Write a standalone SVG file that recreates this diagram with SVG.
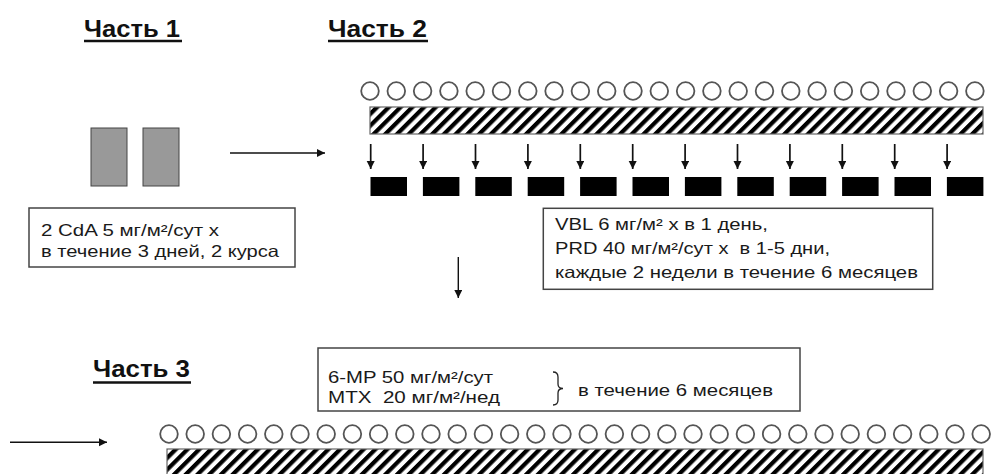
<svg xmlns="http://www.w3.org/2000/svg" xmlns:xlink="http://www.w3.org/1999/xlink" width="992" height="474" viewBox="0 0 992 474">
<style>
.h{font-family:"Liberation Sans",Arial,sans-serif;font-weight:bold;font-size:24px;fill:#111}
.t{font-family:"Liberation Sans",Arial,sans-serif;font-size:16.5px;fill:#1a1a1a}
.ul{stroke:#111;stroke-width:2.3}
.box{fill:#fff;stroke:#444;stroke-width:1.5}
.circ{fill:none;stroke:#555;stroke-width:1.8}
.bar{fill:url(#hatch);stroke:#666;stroke-width:1.2}
.blk{fill:#000}
.gray{fill:#999;stroke:#444;stroke-width:1}
.con{stroke:#111;stroke-width:1.4;fill:none}
.dn{stroke:#111;stroke-width:1.7;fill:none}
</style>
<defs>
<pattern id="hatch" patternUnits="userSpaceOnUse" width="8.3" height="8.3" patternTransform="rotate(45)">
<rect width="8.3" height="8.3" fill="#fff"/>
<rect width="4.2" height="8.3" fill="#000"/>
</pattern>
<marker id="ah" markerUnits="userSpaceOnUse" markerWidth="9" markerHeight="9" refX="8" refY="4" orient="auto">
<path d="M0,0 L8,4 L0,8 z" fill="#111"/>
</marker>
<circle id="c" r="8.8" class="circ"/>
</defs>
<rect width="992" height="474" fill="#fff"/>

<g id="header1">
<text class="h" x="84" y="37" textLength="96" lengthAdjust="spacingAndGlyphs">Часть 1</text>
<line class="ul" x1="84" y1="41" x2="182" y2="41"/>
</g>
<g id="header2">
<text class="h" x="328" y="37" textLength="99" lengthAdjust="spacingAndGlyphs">Часть 2</text>
<line class="ul" x1="328" y1="41" x2="428" y2="41"/>
</g>
<g id="header3">
<text class="h" x="93" y="377" textLength="97" lengthAdjust="spacingAndGlyphs">Часть 3</text>
<line class="ul" x1="93" y1="382.5" x2="191" y2="382.5"/>
</g>

<g id="part1-courses">
<rect class="gray" x="91" y="128" width="36" height="58"/>
<rect class="gray" x="143" y="128" width="36" height="58"/>
</g>

<g id="box1">
<rect class="box" x="29" y="208" width="266" height="59"/>
<text class="t" x="41" y="236" textLength="178" lengthAdjust="spacingAndGlyphs">2 CdA 5 мг/м²/сут x</text>
<text class="t" x="41" y="256.5" textLength="238" lengthAdjust="spacingAndGlyphs">в течение 3 дней, 2 курса</text>
</g>

<g id="circles-top">
<use xlink:href="#c" x="370" y="91"/><use xlink:href="#c" x="396.3" y="91"/><use xlink:href="#c" x="422.6" y="91"/><use xlink:href="#c" x="448.9" y="91"/><use xlink:href="#c" x="475.2" y="91"/><use xlink:href="#c" x="501.5" y="91"/><use xlink:href="#c" x="527.8" y="91"/><use xlink:href="#c" x="554.1" y="91"/><use xlink:href="#c" x="580.4" y="91"/><use xlink:href="#c" x="606.7" y="91"/><use xlink:href="#c" x="633" y="91"/><use xlink:href="#c" x="659.3" y="91"/><use xlink:href="#c" x="685.6" y="91"/><use xlink:href="#c" x="711.9" y="91"/><use xlink:href="#c" x="738.2" y="91"/><use xlink:href="#c" x="764.5" y="91"/><use xlink:href="#c" x="790.8" y="91"/><use xlink:href="#c" x="817.1" y="91"/><use xlink:href="#c" x="843.4" y="91"/><use xlink:href="#c" x="869.7" y="91"/><use xlink:href="#c" x="896" y="91"/><use xlink:href="#c" x="922.3" y="91"/><use xlink:href="#c" x="948.6" y="91"/><use xlink:href="#c" x="974.9" y="91"/>
</g>
<g id="hatch-top">
<rect class="bar" x="370" y="107" width="613" height="27"/>
</g>

<g id="bars-top">
<rect class="blk" x="370.5" y="177" width="36.5" height="19"/><rect class="blk" x="422.9" y="177" width="36.5" height="19"/><rect class="blk" x="475.3" y="177" width="36.5" height="19"/><rect class="blk" x="527.7" y="177" width="36.5" height="19"/><rect class="blk" x="580.1" y="177" width="36.5" height="19"/><rect class="blk" x="632.5" y="177" width="36.5" height="19"/><rect class="blk" x="684.9" y="177" width="36.5" height="19"/><rect class="blk" x="737.3" y="177" width="36.5" height="19"/><rect class="blk" x="789.7" y="177" width="36.5" height="19"/><rect class="blk" x="842.1" y="177" width="36.5" height="19"/><rect class="blk" x="894.5" y="177" width="36.5" height="19"/><rect class="blk" x="946.9" y="177" width="36.5" height="19"/>
</g>

<g id="box2">
<rect class="box" x="543.3" y="208.3" width="389.4" height="81"/>
<text class="t" x="555" y="230.3" textLength="213" lengthAdjust="spacingAndGlyphs">VBL 6 мг/м² x в 1 день,</text>
<text class="t" x="555" y="254.3" textLength="275" lengthAdjust="spacingAndGlyphs" xml:space="preserve">PRD 40 мг/м²/сут x  в 1-5 дни,</text>
<text class="t" x="555" y="278" textLength="363" lengthAdjust="spacingAndGlyphs">каждые 2 недели в течение 6 месяцев</text>
</g>

<g id="box3">
<rect class="box" x="318" y="348" width="482" height="63"/>
<text class="t" x="328" y="382.7" textLength="165" lengthAdjust="spacingAndGlyphs">6-MP 50 мг/м²/сут</text>
<text class="t" x="328" y="402.7" textLength="172" lengthAdjust="spacingAndGlyphs" xml:space="preserve">MTX  20 мг/м²/нед</text>
<path d="M553,372 Q558,372 558,377 L558,384 Q558,388.5 563,388.5 Q558,388.5 558,393 L558,400 Q558,405 553,405" fill="none" stroke="#222" stroke-width="1.3"/>
<text class="t" x="578" y="395.5" textLength="195" lengthAdjust="spacingAndGlyphs">в течение 6 месяцев</text>
</g>

<g id="circles-bottom">
<use xlink:href="#c" x="169" y="434"/><use xlink:href="#c" x="195.2" y="434"/><use xlink:href="#c" x="221.4" y="434"/><use xlink:href="#c" x="247.6" y="434"/><use xlink:href="#c" x="273.8" y="434"/><use xlink:href="#c" x="300" y="434"/><use xlink:href="#c" x="326.2" y="434"/><use xlink:href="#c" x="352.4" y="434"/><use xlink:href="#c" x="378.6" y="434"/><use xlink:href="#c" x="404.8" y="434"/><use xlink:href="#c" x="431" y="434"/><use xlink:href="#c" x="457.2" y="434"/><use xlink:href="#c" x="483.4" y="434"/><use xlink:href="#c" x="509.6" y="434"/><use xlink:href="#c" x="535.8" y="434"/><use xlink:href="#c" x="562" y="434"/><use xlink:href="#c" x="588.2" y="434"/><use xlink:href="#c" x="614.4" y="434"/><use xlink:href="#c" x="640.6" y="434"/><use xlink:href="#c" x="666.8" y="434"/><use xlink:href="#c" x="693" y="434"/><use xlink:href="#c" x="719.2" y="434"/><use xlink:href="#c" x="745.4" y="434"/><use xlink:href="#c" x="771.6" y="434"/><use xlink:href="#c" x="797.8" y="434"/><use xlink:href="#c" x="824" y="434"/><use xlink:href="#c" x="850.2" y="434"/><use xlink:href="#c" x="876.4" y="434"/><use xlink:href="#c" x="902.6" y="434"/><use xlink:href="#c" x="928.8" y="434"/><use xlink:href="#c" x="955" y="434"/><use xlink:href="#c" x="981.2" y="434"/>
</g>
<g id="hatch-bottom">
<rect class="bar" x="167" y="449" width="816" height="32"/>
</g>

<g id="connectors">
<line class="con" x1="230" y1="153" x2="325" y2="153" marker-end="url(#ah)"/>
<line class="con" x1="458.3" y1="257" x2="458.3" y2="298" marker-end="url(#ah)"/>
<line class="con" x1="10" y1="442.3" x2="107" y2="442.3" marker-end="url(#ah)"/>
<g id="dose-arrows">
<line class="dn" x1="370.7" y1="144" x2="370.7" y2="169" marker-end="url(#ah)"/>
<line class="dn" x1="423.1" y1="144" x2="423.1" y2="169" marker-end="url(#ah)"/>
<line class="dn" x1="475.5" y1="144" x2="475.5" y2="169" marker-end="url(#ah)"/>
<line class="dn" x1="527.9" y1="144" x2="527.9" y2="169" marker-end="url(#ah)"/>
<line class="dn" x1="580.3" y1="144" x2="580.3" y2="169" marker-end="url(#ah)"/>
<line class="dn" x1="632.7" y1="144" x2="632.7" y2="169" marker-end="url(#ah)"/>
<line class="dn" x1="685.1" y1="144" x2="685.1" y2="169" marker-end="url(#ah)"/>
<line class="dn" x1="737.5" y1="144" x2="737.5" y2="169" marker-end="url(#ah)"/>
<line class="dn" x1="789.9" y1="144" x2="789.9" y2="169" marker-end="url(#ah)"/>
<line class="dn" x1="842.3" y1="144" x2="842.3" y2="169" marker-end="url(#ah)"/>
<line class="dn" x1="894.7" y1="144" x2="894.7" y2="169" marker-end="url(#ah)"/>
<line class="dn" x1="947.1" y1="144" x2="947.1" y2="169" marker-end="url(#ah)"/>
</g>
</g>
</svg>
